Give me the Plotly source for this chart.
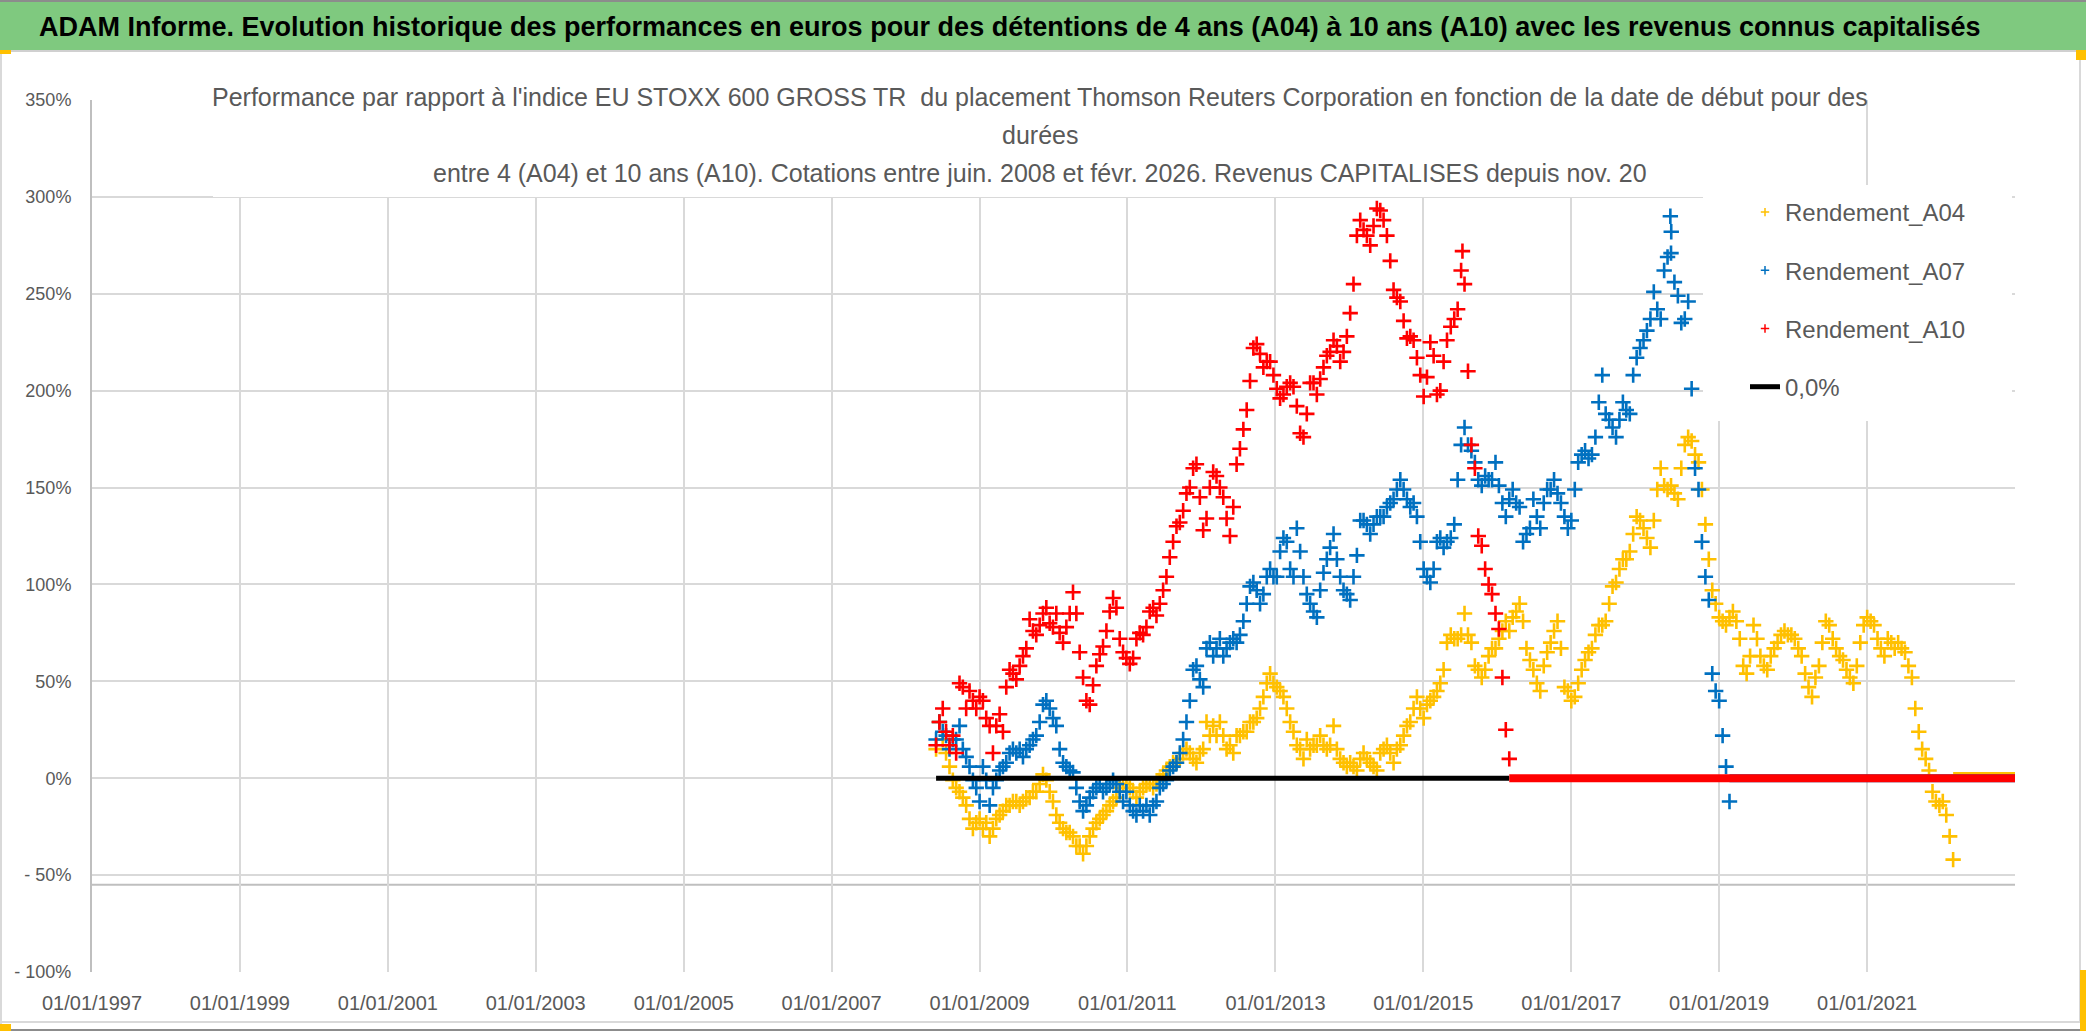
import pandas as pd
import plotly.graph_objects as go

# ---------------- data ----------------
# start dates (decimal years), first block 2008.4 - 2015.3
start_a = [2008.413, 2008.458, 2008.503, 2008.548, 2008.594, 2008.639, 2008.684, 2008.729, 2008.774, 2008.819,
           2008.864, 2008.910, 2008.955, 2009.000, 2009.045, 2009.090, 2009.136, 2009.181, 2009.226, 2009.271,
           2009.316, 2009.361, 2009.406, 2009.451, 2009.497, 2009.542, 2009.587, 2009.632, 2009.677, 2009.722,
           2009.767, 2009.813, 2009.858, 2009.903, 2009.948, 2009.993, 2010.038, 2010.083, 2010.129, 2010.174,
           2010.219, 2010.264, 2010.309, 2010.354, 2010.400, 2010.445, 2010.490, 2010.535, 2010.580, 2010.625,
           2010.670, 2010.716, 2010.761, 2010.806, 2010.851, 2010.896, 2010.941, 2010.986, 2011.032, 2011.077,
           2011.122, 2011.167, 2011.212, 2011.257, 2011.302, 2011.348, 2011.393, 2011.438, 2011.483, 2011.528,
           2011.573, 2011.618, 2011.664, 2011.709, 2011.754, 2011.799, 2011.844, 2011.889, 2011.934, 2011.980,
           2012.025, 2012.070, 2012.115, 2012.160, 2012.205, 2012.250, 2012.296, 2012.341, 2012.386, 2012.431,
           2012.476, 2012.521, 2012.567, 2012.612, 2012.657, 2012.702, 2012.747, 2012.792, 2012.837, 2012.883,
           2012.928, 2012.973, 2013.018, 2013.063, 2013.108, 2013.153, 2013.199, 2013.244, 2013.289, 2013.334,
           2013.379, 2013.424, 2013.469, 2013.515, 2013.560, 2013.605, 2013.650, 2013.695, 2013.740, 2013.786,
           2013.831, 2013.876, 2013.921, 2013.966, 2014.011, 2014.056, 2014.102, 2014.147, 2014.192, 2014.237,
           2014.282, 2014.327, 2014.372, 2014.418, 2014.463, 2014.508, 2014.553, 2014.598, 2014.643, 2014.689,
           2014.734, 2014.779, 2014.824, 2014.869, 2014.914, 2014.959, 2015.005, 2015.050, 2015.095, 2015.140,
           2015.185, 2015.230, 2015.275, 2015.321]
# second block 2015.4 - 2022.2
start_b = [2015.372, 2015.419, 2015.465, 2015.512, 2015.558, 2015.605, 2015.651, 2015.698, 2015.744, 2015.791,
           2015.837, 2015.884, 2015.930, 2015.977, 2016.023, 2016.070, 2016.116, 2016.163, 2016.209, 2016.256,
           2016.302, 2016.349, 2016.395, 2016.442, 2016.488, 2016.535, 2016.581, 2016.628, 2016.674, 2016.721,
           2016.767, 2016.814, 2016.860, 2016.907, 2016.953, 2017.000, 2017.047, 2017.093, 2017.140, 2017.186,
           2017.233, 2017.279, 2017.326, 2017.372, 2017.419, 2017.465, 2017.512, 2017.558, 2017.605, 2017.651,
           2017.698, 2017.744, 2017.791, 2017.837, 2017.884, 2017.930, 2017.977, 2018.023, 2018.070, 2018.116,
           2018.163, 2018.209, 2018.256, 2018.302, 2018.349, 2018.395, 2018.442, 2018.488, 2018.535, 2018.581,
           2018.628, 2018.674, 2018.721, 2018.767, 2018.814, 2018.860, 2018.907, 2018.953, 2019.000, 2019.047,
           2019.093, 2019.140, 2019.186, 2019.233, 2019.279, 2019.326, 2019.372, 2019.419, 2019.465, 2019.512,
           2019.558, 2019.605, 2019.651, 2019.698, 2019.744, 2019.791, 2019.837, 2019.884, 2019.930, 2019.977,
           2020.023, 2020.070, 2020.116, 2020.163, 2020.209, 2020.256, 2020.302, 2020.349, 2020.395, 2020.442,
           2020.488, 2020.535, 2020.581, 2020.628, 2020.674, 2020.721, 2020.767, 2020.814, 2020.860, 2020.907,
           2020.953, 2021.000, 2021.047, 2021.093, 2021.140, 2021.186, 2021.233, 2021.279, 2021.326, 2021.372,
           2021.419, 2021.465, 2021.512, 2021.558, 2021.605, 2021.651, 2021.698, 2021.744, 2021.791, 2021.837,
           2021.884, 2021.930, 2021.977, 2022.023, 2022.070, 2022.116, 2022.163]

# returns in % (block a then block b)
a04_a = [15, 29, 20, 13, 6, -1, -5, -7, -10, -14, -21, -26, -23, -21, -26, -23, -30, -26, -21, -19,
         -17, -14, -14, -12, -12, -14, -12, -10, -10, -7, -7, -3, 2, -1, -7, -12, -19, -23, -26, -28,
         -28, -30, -35, -35, -39, -35, -30, -26, -23, -21, -19, -17, -14, -12, -10, -5, -3, -3, -5, -7,
         -10, -7, -5, -3, -3, -5, -3, -1, 2, 4, 6, 8, 8, 10, 13, 15, 13, 10, 8, 13,
         15, 29, 22, 27, 22, 29, 22, 15, 17, 13, 22, 22, 24, 24, 29, 29, 31, 36, 42, 49,
         54, 49, 47, 45, 42, 36, 29, 24, 17, 15, 10, 20, 15, 17, 17, 22, 17, 15, 17, 27,
         15, 10, 8, 6, 8, 6, 4, 10, 13, 10, 8, 6, 4, 13, 15, 17, 13, 8, 15, 17,
         22, 27, 29, 36, 42, 36, 31, 38, 40, 42, 45, 49, 56, 70]
a04_b = [74, 72, 72, 74, 85, 74, 70, 58, 56, 52, 56, 63, 67, 67, 72, 76, 81, 76, 83, 86,
         90, 81, 67, 61, 56, 49, 45, 58, 65, 70, 76, 81, 67, 47, 45, 40, 42, 49, 56, 61,
         65, 67, 74, 79, 79, 81, 90, 99, 101, 108, 113, 113, 117, 126, 135, 133, 129, 124, 119, 133,
         149, 160, 151, 149, 151, 147, 144, 160, 172, 176, 174, 167, 163, 149, 131, 113, 97, 90, 83, 81,
         79, 83, 86, 81, 72, 58, 54, 63, 79, 72, 63, 58, 56, 63, 67, 70, 74, 76, 74, 74,
         72, 67, 63, 54, 47, 42, 52, 58, 70, 81, 79, 72, 67, 63, 61, 56, 52, 49, 58, 70,
         79, 83, 81, 79, 72, 67, 63, 72, 70, 67, 70, 67, 65, 58, 52, 36, 24, 15, 10, 4,
         -7, -12, -14, -12, -19, -30, -42]

a07_a = [20, 29, 24, 22, 15, 20, 20, 27, 15, 11, 6, -1, -5, -12, 6, -1, -14, -5, -1, 4,
         6, 8, 13, 15, 13, 15, 11, 15, 17, 20, 22, 29, 38, 40, 36, 31, 27, 15, 8, 6,
         4, 3, -5, -12, -17, -14, -10, -7, -5, -3, -7, -5, -3, -1, -3, -7, -12, -7, -14, -17,
         -19, -14, -17, -14, -19, -14, -12, -5, -3, -1, 4, 6, 8, 13, 20, 29, 40, 56, 58, 51,
         47, 67, 70, 63, 67, 72, 63, 67, 70, 72, 70, 74, 81, 90, 99, 101, 97, 90, 95, 104,
         108, 104, 104, 117, 124, 122, 108, 104, 129, 117, 104, 95, 90, 86, 83, 97, 106, 113, 119, 126,
         113, 104, 97, 95, 92, 104, 115, 133, 133, 131, 126, 131, 135, 135, 135, 140, 142, 144, 149, 154,
         149, 144, 140, 142, 135, 122, 108, 104, 101, 108, 122, 124, 119, 122]
a07_b = [124, 131, 154, 172, 181, 172, 169, 163, 154, 151, 156, 154, 154, 163, 151, 142, 135, 144, 149, 142,
         140, 122, 126, 129, 144, 135, 129, 142, 149, 149, 154, 147, 142, 135, 129, 133, 149, 163, 167, 169,
         165, 167, 176, 194, 208, 188, 185, 181, 176, 185, 194, 190, 188, 208, 217, 222, 226, 231, 237, 251,
         242, 237, 262, 269, 271, 256, 249, 235, 237, 246, 201, 160, 149, 122, 104, 92, 54, 45, 40, 22,
         6, -12]
a07_peak_t = [2018.340, 2018.352]
a07_peak_v = [290, 282]

a10_a = [17, 29, 36, 24, 17, 22, 13, 49, 47, 36, 45, 40, 36, 42, 40, 31, 27, 13, 27, 33,
         24, 47, 56, 54, 51, 58, 63, 67, 82, 76, 74, 79, 85, 88, 80, 78, 85, 75, 70, 78,
         85, 96, 85, 65, 52, 40, 38, 48, 58, 64, 68, 76, 86, 93, 88, 72, 65, 62, 59, 62,
         72, 75, 74, 78, 86, 88, 84, 90, 97, 104, 114, 122, 130, 132, 138, 147, 150, 160, 162, 145,
         128, 134, 150, 158, 156, 150, 145, 134, 125, 140, 162, 170, 180, 190, 205, 222, 224, 219, 212, 215,
         215, 208, 201, 196, 198, 202, 204, 202, 192, 178, 176, 188, 204, 204, 198, 206, 212, 218, 220, 226,
         223, 215, 220, 228, 240, 255, 280, 288, 283, 280, 275, 285, 294, 293, 288, 280, 267, 252, 248, 246,
         236, 227, 228, 226, 217, 208, 197, 207, 225, 218, 198, 200, 215, 226]
a10_b = [233, 237, 242, 262, 255, 210, 172, 160, 125, 120, 108, 100, 95, 85, 77, 52, 25, 10]
a10_peak_t = [2015.530]
a10_peak_v = [272]

# flat values after the last computable start date of each horizon
a04_tail_t = [2022.163, 2023.0]
a04_tail_v = [1.2, 1.2]
a07_tail_t = [2019.140, 2023.0]
a07_tail_v = [0, 0]
a10_tail_t = [2016.163, 2023.0]
a10_tail_v = [0, 0]
zero_t = [2008.413, 2016.163]
zero_v = [0, 0]

series_names = ["Rendement_A04", "Rendement_A07", "Rendement_A10", "0,0%"]
x_tick_years = list(range(1997, 2022, 2))
x_tick_labels = ["01/01/%d" % y for y in x_tick_years]
y_tick_vals = [-100, -50, 0, 50, 100, 150, 200, 250, 300, 350]
y_tick_labels = ["- 100%", "- 50%", "0%", "50%", "100%", "150%", "200%", "250%", "300%", "350%"]

main_title = ("ADAM Informe. Evolution historique des performances en euros pour des détentions "
              "de 4 ans (A04) à 10 ans (A10) avec les revenus connus capitalisés")
sub_lines = ["Performance par rapport à l'indice EU STOXX 600 GROSS TR  du placement Thomson Reuters "
             "Corporation en fonction de la date de début pour des",
             "durées",
             "entre 4 (A04) et 10 ans (A10). Cotations entre juin. 2008 et févr. 2026. Revenus CAPITALISES depuis nov. 20"]


def to_date(y):
    yr = int(y)
    start = pd.Timestamp(yr, 1, 1)
    ndays = (pd.Timestamp(yr + 1, 1, 1) - start).days
    return start + pd.Timedelta(days=(y - yr) * ndays)


def dates(lst):
    return [to_date(v) for v in lst]


def frac(lst):
    return [v / 100.0 for v in lst]


a04_t = start_a + start_b[:len(a04_b)]
a04_v = a04_a + a04_b
a07_t = start_a + start_b[:len(a07_b)] + a07_peak_t
a07_v = a07_a + a07_b + a07_peak_v
a10_t = start_a + start_b[:len(a10_b)] + a10_peak_t
a10_v = a10_a + a10_b + a10_peak_v

C04, C07, C10 = "#FFC000", "#0070C0", "#FF0000"
GRAY_TXT = "#595959"
FONT = "Liberation Sans"

# ---------------- geometry (pixels of the 2086x1031 page) ----------------
W, H = 2086, 1031
L, R, T, B = 92, 2015, 100, 972


def px(xp):
    return (xp - L) / (R - L)


def py(yp):
    return (B - yp) / (B - T)


fig = go.Figure()


def mk(c, size=11, lw=2.6):
    return dict(symbol="cross-thin", size=size, color=c, line=dict(width=lw, color=c))


fig.add_trace(go.Scatter(x=dates(a04_t), y=frac(a04_v), mode="markers", showlegend=False,
                         marker=mk(C04), hoverinfo="x+y"))
fig.add_trace(go.Scatter(x=dates(a07_t), y=frac(a07_v), mode="markers", showlegend=False,
                         marker=mk(C07), hoverinfo="x+y"))
fig.add_trace(go.Scatter(x=dates(zero_t), y=frac(zero_v), mode="lines", showlegend=False,
                         line=dict(color="black", width=5)))
fig.add_trace(go.Scatter(x=dates(a04_tail_t), y=frac(a04_tail_v), mode="lines", showlegend=False,
                         line=dict(color=C04, width=8)))
fig.add_trace(go.Scatter(x=dates(a07_tail_t), y=frac(a07_tail_v), mode="lines", showlegend=False,
                         line=dict(color=C07, width=8)))
fig.add_trace(go.Scatter(x=dates(a10_t), y=frac(a10_v), mode="markers", showlegend=False,
                         marker=mk(C10), hoverinfo="x+y"))
fig.add_trace(go.Scatter(x=dates(a10_tail_t), y=frac(a10_tail_v), mode="lines", showlegend=False,
                         line=dict(color=C10, width=8)))

# legend entries (small symbols like the reference)
for nm, c in zip(series_names[:3], [C04, C07, C10]):
    fig.add_trace(go.Scatter(x=[None], y=[None], mode="markers", name=nm,
                             marker=mk(c, size=6, lw=1.5), legendgroup=nm))
fig.add_trace(go.Scatter(x=[None], y=[None], mode="lines", name=series_names[3],
                         line=dict(color="black", width=5), legendgroup=series_names[3]))

shapes = [
    dict(type="rect", xref="paper", yref="paper", x0=px(0), x1=px(W), y0=py(50), y1=py(0),
         fillcolor="#7FC97F", line=dict(width=0), layer="above"),
    dict(type="line", xref="paper", yref="paper", x0=px(0), x1=px(W), y0=py(51), y1=py(51),
         line=dict(color="#D0D0D0", width=2), layer="above"),
    dict(type="line", xref="paper", yref="paper", x0=px(0), x1=px(W), y0=py(1), y1=py(1),
         line=dict(color="#8C8C8C", width=2), layer="above"),
    dict(type="rect", xref="paper", yref="paper", x0=px(213), x1=px(1866), y0=py(197), y1=py(60),
         fillcolor="white", line=dict(width=0), layer="above"),
    dict(type="rect", xref="paper", yref="paper", x0=px(1703), x1=px(2012), y0=py(421), y1=py(185),
         fillcolor="white", line=dict(width=0), layer="above"),
    dict(type="line", xref="paper", yref="y", x0=0, x1=1, y0=-0.55, y1=-0.55,
         line=dict(color="#BFBFBF", width=2), layer="below"),
    dict(type="line", xref="paper", yref="paper", x0=px(0), x1=px(2080), y0=py(1022), y1=py(1022),
         line=dict(color="#D9D9D9", width=2), layer="above"),
    dict(type="line", xref="paper", yref="paper", x0=px(0), x1=px(W), y0=py(1030), y1=py(1030),
         line=dict(color="#8C8C8C", width=2), layer="above"),
    dict(type="line", xref="paper", yref="paper", x0=px(2080), x1=px(2080), y0=py(1022), y1=py(52),
         line=dict(color="#D9D9D9", width=2), layer="above"),
    dict(type="line", xref="paper", yref="paper", x0=px(1), x1=px(1), y0=py(1030), y1=py(52),
         line=dict(color="#D9D9D9", width=2), layer="above"),
    dict(type="rect", xref="paper", yref="paper", x0=px(0), x1=px(11), y0=py(54), y1=py(50),
         fillcolor="#FFC000", line=dict(width=0), layer="above"),
    dict(type="rect", xref="paper", yref="paper", x0=px(2076), x1=px(2086), y0=py(60), y1=py(50),
         fillcolor="#FFC000", line=dict(width=0), layer="above"),
    dict(type="rect", xref="paper", yref="paper", x0=px(2080), x1=px(2086), y0=py(1031), y1=py(970),
         fillcolor="#FFC000", line=dict(width=0), layer="above"),
    dict(type="rect", xref="paper", yref="paper", x0=px(0), x1=px(11), y0=py(1031), y1=py(1024),
         fillcolor="#FFC000", line=dict(width=0), layer="above"),
]

annotations = [
    dict(text="<b>" + main_title + "</b>", xref="paper", yref="paper", x=px(1010), y=py(27),
         xanchor="center", yanchor="middle", showarrow=False,
         font=dict(family=FONT, size=27, color="black")),
]
for txt, yy in zip(sub_lines, [97, 135, 173]):
    annotations.append(dict(text=txt, xref="paper", yref="paper", x=px(1040), y=py(yy),
                            xanchor="center", yanchor="middle", showarrow=False,
                            font=dict(family=FONT, size=25, color=GRAY_TXT)))

fig.update_layout(
    width=W, height=H,
    margin=dict(l=L, r=W - R, t=T, b=H - B, pad=0),
    paper_bgcolor="white", plot_bgcolor="white",
    showlegend=True,
    legend=dict(x=px(1745), y=py(190), xanchor="left", yanchor="top", bgcolor="rgba(0,0,0,0)",
                font=dict(family=FONT, size=24, color=GRAY_TXT), tracegroupgap=24),
    shapes=shapes,
    annotations=annotations,
    hovermode="closest",
    xaxis=dict(type="date", range=[to_date(1997.0), to_date(2023.0)],
               tickvals=dates(x_tick_years), ticktext=x_tick_labels,
               showgrid=True, gridcolor="#D9D9D9", gridwidth=2, zeroline=False,
               showline=False, ticks="", ticklabelstandoff=17,
               tickfont=dict(family=FONT, size=20, color=GRAY_TXT)),
    yaxis=dict(range=[-1.0, 3.5], tickvals=frac(y_tick_vals), ticktext=y_tick_labels,
               showgrid=True, gridcolor="#D9D9D9", gridwidth=2, zeroline=False,
               showline=True, linecolor="#BFBFBF", linewidth=2, ticks="", ticklabelstandoff=15,
               tickfont=dict(family=FONT, size=18, color=GRAY_TXT)),
)

fig.write_html("out.html", config={"displayModeBar": False},
               post_script="document.body.style.margin='0';document.body.style.overflow='hidden';")
